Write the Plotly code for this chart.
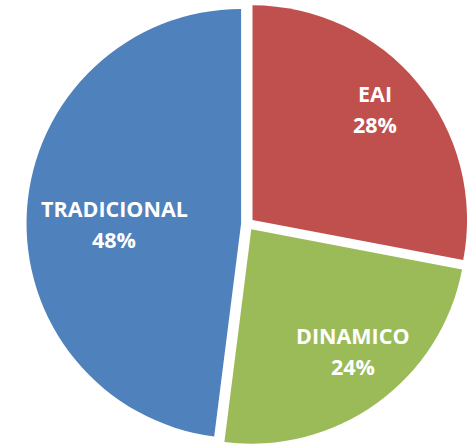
import math
import plotly.graph_objects as go

labels = ["EAI", "DINAMICO", "TRADICIONAL"]
values = [28, 24, 48]
colors = ["#C0504D", "#9BBB59", "#4F81BD"]

# styling / layout
W, H = 471, 445
M_T = 3
PULL = 0.03
DOM_X = [0.051, 1.0]
label_radius = [0.77, 0.738, 0.59]   # fraction of radius where labels sit (Excel best-fit look)
label_turn = [-2.3, -3.6, -3.6]      # small angular nudge of each label (degrees)
LINE_GAP = 15.5                      # half the distance between label and percent lines (px)
FONT = dict(family="Open Sans", size=21.5, color="white", weight="bold")

fig = go.Figure(go.Pie(
    labels=labels,
    values=values,
    sort=False,
    direction="clockwise",
    rotation=0,
    pull=[PULL] * len(values),
    marker=dict(colors=colors, line=dict(width=0)),
    textinfo="none",
    domain=dict(x=DOM_X, y=[0, 1]),
    hoverinfo="label+percent",
))

# label positions derived from the slice angles (same geometry plotly uses)
plot_w, plot_h = W, H - M_T
r = min(plot_w * (DOM_X[1] - DOM_X[0]), plot_h) / (2 + 2 * PULL)
cx = plot_w * (DOM_X[0] + DOM_X[1]) / 2
total = sum(values)
cum = 0
for lab, val, k, turn in zip(labels, values, label_radius, label_turn):
    mid = 2 * math.pi * (cum + val / 2) / total + math.radians(turn)
    cum += val
    d = (k + PULL) * r
    x = (cx + d * math.sin(mid)) / plot_w
    y = 0.5 + d * math.cos(mid) / plot_h
    pct = f"{round(100 * val / total)}%"
    for txt, shift in ((lab, LINE_GAP), (pct, -LINE_GAP)):
        fig.add_annotation(x=x, y=y, xref="paper", yref="paper", text=txt,
                           showarrow=False, xanchor="center", yanchor="middle",
                           yshift=shift, font=FONT)

fig.update_layout(
    width=W, height=H,
    margin=dict(l=0, r=0, t=M_T, b=0),
    showlegend=False,
    paper_bgcolor="white",
    plot_bgcolor="white",
)

fig.write_html("out.html", config={"displayModeBar": False},
               post_script="document.body.style.margin='0';")
